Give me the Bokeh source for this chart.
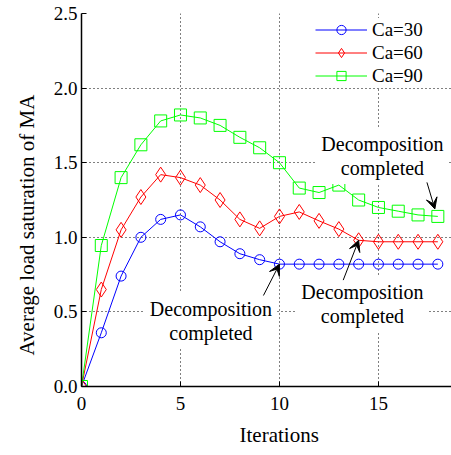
from bokeh.plotting import figure
from bokeh.models import (Range1d, FixedTicker, PrintfTickFormatter, Legend,
                          LegendItem, Label, Arrow, VeeHead, Title)
from bokeh.embed import file_html
from bokeh.resources import INLINE

# ---------------- data ----------------
iterations = list(range(19))
ca30 = [0.0, 0.36, 0.74, 1.00, 1.12, 1.15, 1.07, 0.97, 0.89, 0.85, 0.82,
        0.82, 0.82, 0.82, 0.82, 0.82, 0.82, 0.82, 0.82]
ca60 = [0.0, 0.65, 1.05, 1.27, 1.42, 1.40, 1.35, 1.25, 1.12, 1.06, 1.14,
        1.17, 1.11, 1.055, 0.98, 0.97, 0.97, 0.97, 0.97]
ca90 = [0.0, 0.945, 1.40, 1.62, 1.78, 1.82, 1.80, 1.75, 1.67, 1.60, 1.50,
        1.33, 1.30, 1.35, 1.25, 1.20, 1.175, 1.15, 1.14]
series_labels = ["Ca=30", "Ca=60", "Ca=90"]
x_ticks = [0, 5, 10, 15]
y_ticks = [0.0, 0.5, 1.0, 1.5, 2.0, 2.5]
x_grid = [5, 10, 15]
y_grid = [0.5, 1.0, 1.5, 2.0]
note_text = "Decomposition\ncompleted"
x_title = "Iterations"
y_title = "Average load saturation of MA"

FONT = "'Liberation Serif', 'Times New Roman', serif"

p = figure(width=451, height=455, output_backend="svg", toolbar_location=None,
           x_range=Range1d(0, 18.69), y_range=Range1d(0, 2.5),
           min_border_left=81, min_border_right=0, min_border_top=13,
           min_border_bottom=66)
p.outline_line_color = None
p.background_fill_color = "white"
p.border_fill_color = "white"

xa = p.xaxis[0]
ya = p.yaxis[0]
for ax in (xa, ya):
    ax.axis_line_color = "black"
    ax.axis_line_width = 1.5
    ax.major_tick_in = 5
    ax.major_tick_out = 0
    ax.minor_tick_in = 0
    ax.minor_tick_out = 0
    ax.major_tick_line_color = "black"
    ax.major_label_text_color = "black"
    ax.major_label_text_font_style = "normal"
    ax.major_label_text_font = FONT
    ax.major_label_text_font_size = "19px"

xa.ticker = FixedTicker(ticks=x_ticks)
ya.ticker = FixedTicker(ticks=y_ticks)
ya.formatter = PrintfTickFormatter(format="%.1f")
xa.major_label_standoff = 10
ya.major_label_standoff = 4

p.xgrid.ticker = FixedTicker(ticks=x_grid)
p.ygrid.ticker = FixedTicker(ticks=y_grid)
for g in (p.xgrid, p.ygrid):
    g.grid_line_color = "black"
    g.grid_line_dash = "1 3"
    g.grid_line_width = 1

colors = ["#0000ff", "#ff0000", "#00ff00"]
markers = ["circle", "diamond", "square"]
sizes = [10, 15, 12]
items = []
for ys, c, m, s, lab in zip([ca30, ca60, ca90], colors, markers, sizes, series_labels):
    lr = p.line(iterations, ys, line_color=c, line_width=1)
    sr = p.scatter(iterations, ys, marker=m, size=s, line_color=c,
                   fill_color=None, line_width=1)
    items.append(LegendItem(label=lab, renderers=[lr, sr]))

legend = Legend(items=items, location=(234, 299), glyph_width=52,
                glyph_height=23, label_height=23, label_standoff=5,
                spacing=0, padding=4, margin=0, border_line_color=None,
                background_fill_color="white", background_fill_alpha=1,
                label_text_font=FONT, label_text_font_size="19px",
                label_text_font_style="normal",
                label_text_color="black")
p.add_layout(legend)

# annotations
notes = [(6.54, 0.44), (14.19, 0.555), (15.2, 1.546)]
for nx, ny in notes:
    p.add_layout(Label(x=nx, y=ny, text=note_text, text_align="center",
                       text_baseline="middle", text_font=FONT,
                       text_font_size="20px", text_color="black",
                       text_line_height=1.1,
                       background_fill_color="white", background_fill_alpha=1,
                       padding=5))

arrow_specs = [
    ((9.19, 0.61), (iterations[10], ca30[10])),
    ((13.22, 0.713), (iterations[14], ca60[14])),
    ((17.45, 1.368), (iterations[18] - 0.15, ca90[18] + 0.05)),
]
for (x0, y0), (x1, y1) in arrow_specs:
    p.add_layout(Arrow(end=VeeHead(size=11, fill_color="black",
                                   line_color="black", line_width=1),
                       x_start=x0, y_start=y0, x_end=x1, y_end=y1,
                       line_color="black", line_width=1))

# axis titles
p.add_layout(Title(text=x_title, align="left", offset=158, standoff=17,
                   text_font=FONT, text_font_size="21px",
                   text_font_style="normal", text_color="black"), "below")
p.add_layout(Title(text=y_title, align="left", offset=31, standoff=23,
                   text_font=FONT, text_font_size="21px",
                   text_font_style="normal", text_color="black"), "left")

open("out.html", "w").write(file_html(p, INLINE))
